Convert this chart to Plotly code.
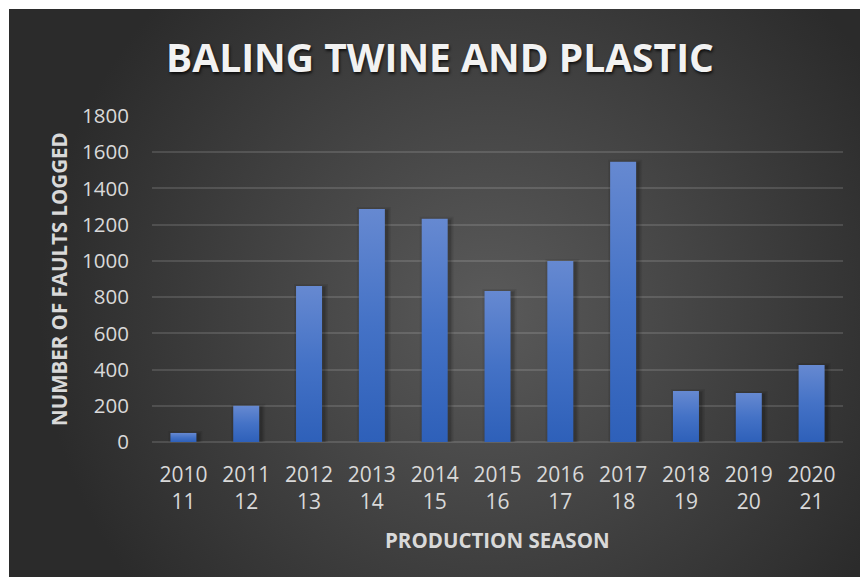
import base64
import plotly.graph_objects as go

# ---- data ----
seasons = ["2010<br>11", "2011<br>12", "2012<br>13", "2013<br>14", "2014<br>15", "2015<br>16",
           "2016<br>17", "2017<br>18", "2018<br>19", "2019<br>20", "2020<br>21"]
faults = [50, 200, 862, 1287, 1232, 834, 1000, 1548, 282, 271, 425]
y_ticks = [0, 200, 400, 600, 800, 1000, 1200, 1400, 1600, 1800]

title_text = "BALING TWINE AND PLASTIC"
y_title = "NUMBER OF FAULTS LOGGED"
x_title = "PRODUCTION SEASON"

# ---- layout constants ----
W, H = 860, 577
ML, MR, MT, MB = 152, 17, 116, 135
PW, PH = W - ML - MR, H - MT - MB
BAR_W = 0.414
FONT = "Open Sans"
TXT = "#d9d9d9"

n = len(faults)
xs = list(range(n))
x_per_px = n / PW
y_per_px = (y_ticks[-1] - y_ticks[0]) / PH

fig = go.Figure()

# soft shadows behind bars
for k, a in [(4, 0.07), (2.5, 0.09), (1.2, 0.12)]:
    for i, v in zip(xs, faults):
        dx = 2 * x_per_px
        ex = k * x_per_px
        ey = k * y_per_px
        x0, x1 = i - BAR_W / 2 - ex + dx, i + BAR_W / 2 + ex + dx
        y0, y1 = -ey - 2 * y_per_px, v + ey - 2 * y_per_px
        fig.add_trace(go.Scatter(x=[x0, x1, x1, x0, x0], y=[y0, y0, y1, y1, y0],
                                 mode="lines", line=dict(width=0), fill="toself",
                                 fillcolor=f"rgba(0,0,0,{a})", hoverinfo="skip", showlegend=False))

# bars with vertical gradient
for i, v in zip(xs, faults):
    x0, x1 = i - BAR_W / 2, i + BAR_W / 2
    fig.add_trace(go.Scatter(
        x=[x0, x1, x1, x0, x0], y=[0, 0, v, v, 0], mode="lines", line=dict(width=0),
        fill="toself",
        fillgradient=dict(type="vertical", start=0, stop=v,
                          colorscale=[[0, "#2e60b9"], [0.5, "#4472c6"], [1, "#6689d1"]]),
        hovertemplate=f"{v}<extra></extra>", showlegend=False))

# radial-gradient background
svg = ('<svg xmlns="http://www.w3.org/2000/svg" width="851" height="568">'
       '<defs><radialGradient id="g" gradientUnits="userSpaceOnUse" cx="480" cy="300" r="450">'
       '<stop offset="0" stop-color="#5a5a5a"/><stop offset="1" stop-color="#2b2b2b"/>'
       '</radialGradient></defs><rect width="851" height="568" fill="url(#g)"/></svg>')
src = "data:image/svg+xml;base64," + base64.b64encode(svg.encode()).decode()
fig.add_layout_image(dict(source=src, xref="paper", yref="paper",
                          x=(9 - ML) / PW, y=(H - MB - 9) / PH,
                          sizex=(W - 9) / PW, sizey=(H - 9) / PH,
                          xanchor="left", yanchor="top", sizing="stretch", layer="below"))

fig.update_layout(
    width=W, height=H,
    margin=dict(l=ML, r=MR, t=MT, b=MB, pad=0),
    paper_bgcolor="white", plot_bgcolor="rgba(0,0,0,0)",
    font=dict(family=FONT, color=TXT),
    title=dict(text=title_text, xref="container", yref="container",
               x=440 / W, y=1 - 58.5 / H, xanchor="center", yanchor="middle",
               font=dict(family=FONT, size=39, color="#f2f2f2", weight="bold",
                         shadow="1px 2px 3px rgba(0,0,0,0.75)")),
    xaxis=dict(range=[-0.5, n - 0.5], tickmode="array", tickvals=xs, ticktext=seasons,
               showgrid=False, zeroline=False, showline=False, ticks="",
               tickfont=dict(family=FONT, size=21, color=TXT), ticklabelstandoff=18,
               fixedrange=True),
    yaxis=dict(range=[y_ticks[0], y_ticks[-1]], tickmode="array", tickvals=y_ticks,
               showgrid=True, gridcolor="rgba(255,255,255,0.13)", gridwidth=1.5,
               zeroline=True, zerolinecolor="rgba(255,255,255,0.13)", zerolinewidth=1.5,
               showline=False, ticks="",
               tickfont=dict(family=FONT, size=20.5, color=TXT), ticklabelstandoff=22,
               fixedrange=True),
    annotations=[
        dict(text=y_title, xref="paper", yref="paper", x=(59 - ML) / PW, y=0.5,
             xanchor="center", yanchor="middle", textangle=-90, showarrow=False,
             font=dict(family=FONT, size=20.5, color=TXT, weight="bold")),
        dict(text=x_title, xref="paper", yref="paper", x=(497 - ML) / PW,
             y=(H - MB - 540) / PH, xanchor="center", yanchor="middle", showarrow=False,
             font=dict(family=FONT, size=20.5, color=TXT, weight="bold")),
    ],
    showlegend=False,
)

fig.write_html("out.html")
